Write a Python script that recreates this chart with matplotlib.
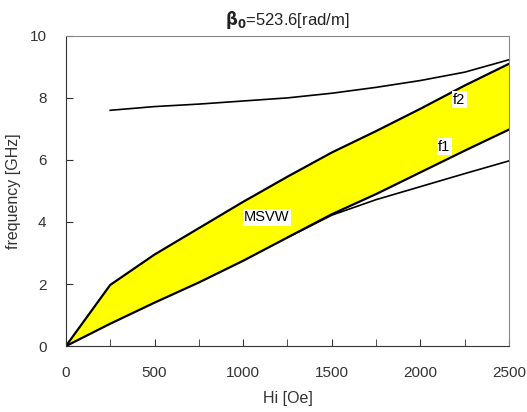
import matplotlib
matplotlib.use("Agg")
import matplotlib.pyplot as plt

# Hi [Oe] sample points
hi = [0, 250, 500, 750, 1000, 1250, 1500, 1750, 2000, 2250, 2500]

# band edges (GHz)
f1 = [0, 0.72, 1.4, 2.05, 2.75, 3.5, 4.25, 4.9, 5.6, 6.3, 6.98]
f2 = [0, 1.97, 2.95, 3.8, 4.65, 5.46, 6.24, 6.93, 7.65, 8.4, 9.1]

# upper curve
hi_up = [250, 500, 750, 1000, 1250, 1500, 1750, 2000, 2250, 2500]
f_up = [7.6, 7.72, 7.8, 7.9, 8.0, 8.15, 8.34, 8.56, 8.83, 9.23]

# lower curve branching off f1
hi_low = [1250, 1500, 1750, 2000, 2250, 2500]
f_low = [3.5, 4.22, 4.72, 5.14, 5.56, 5.97]

plt.rcParams['font.family'] = ['Liberation Sans', 'DejaVu Sans']

fig = plt.figure(figsize=(5.27, 4.12), dpi=100)
ax = fig.add_axes([0.125, 0.160, 0.841, 0.753])

ax.fill_between(hi, f1, f2, color="#ffff00", linewidth=0)
ax.plot(hi, f1, color="black", lw=1.6)
ax.plot(hi, f2, color="black", lw=1.6)
ax.plot(hi_up, f_up, color="black", lw=1.2)
ax.plot(hi_low, f_low, color="black", lw=1.2)

box = dict(facecolor="white", edgecolor="none", pad=1)
ax.text(1005, 4.15, "MSVW", fontsize=10.5, bbox=box, color="black", va="center")
ax.text(2184, 7.94, "f2", fontsize=10.5, bbox=box, color="black", va="center")
ax.text(2099, 6.43, "f1", fontsize=10.5, bbox=box, color="black", va="center")

ax.set_xlim(0, 2500)
ax.set_ylim(0, 10)
ax.set_xticks([0, 500, 1000, 1500, 2000, 2500])
ax.set_xticks(range(0, 2501, 250), minor=True)
ax.set_yticks([0, 2, 4, 6, 8, 10])
ax.tick_params(axis="both", direction="in", length=5, colors="#333333",
               labelsize=11, labelcolor="#333333")
ax.tick_params(axis="x", which="minor", direction="in", length=5, colors="#333333")
ax.tick_params(axis="x", pad=14)
ax.tick_params(axis="y", pad=14)

for side in ["top", "right"]:
    ax.spines[side].set_color("#888888")
for side in ["left", "bottom"]:
    ax.spines[side].set_color("#333333")

ax.set_xlabel("Hi [Oe]", fontsize=11.5, color="#333333", labelpad=8)
ax.set_ylabel("frequency [GHz]", fontsize=11.5, color="#333333", labelpad=6)
ax.set_title(r"$\mathbf{\beta_0}$=523.6[rad/m]", fontsize=12, color="#222222", pad=8)

fig.savefig("out.png", dpi=100)
